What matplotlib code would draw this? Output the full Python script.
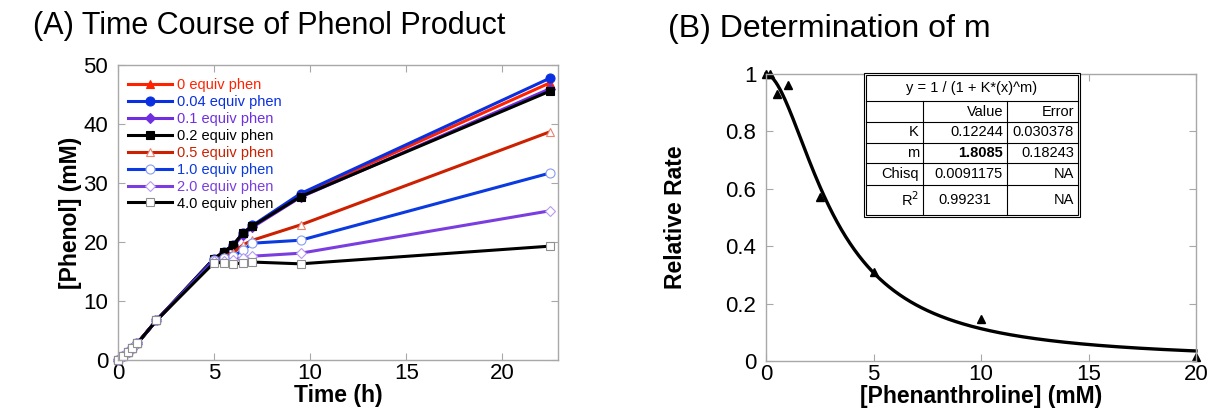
import numpy as np
import matplotlib
matplotlib.use("Agg")
import matplotlib.pyplot as plt
from matplotlib.lines import Line2D
from matplotlib.patches import Rectangle

plt.rcParams['font.family'] = ['Liberation Sans', 'DejaVu Sans']

# ---------------- data: panel A ----------------
time_h = [0, 0.25, 0.5, 0.75, 1, 2, 5, 5.5, 6, 6.5, 7, 9.5, 22.5]
early = [0, 0.7, 1.3, 2.0, 2.8, 6.7]
phen_0_00 = early + [17.2, 18.3, 19.5, 21.5, 22.7, 28.0, 47.0]
phen_0_04 = early + [17.2, 18.3, 19.5, 21.5, 22.8, 28.2, 47.8]
phen_0_10 = early + [17.0, 18.1, 19.3, 21.2, 22.5, 27.6, 46.0]
phen_0_20 = early + [17.2, 18.3, 19.5, 21.5, 22.7, 27.7, 45.6]
phen_0_50 = early + [17.0, 17.5, 18.2, 19.5, 20.3, 22.9, 38.7]
phen_1_00 = early + [17.0, 17.3, 17.6, 18.6, 19.8, 20.3, 31.7]
phen_2_00 = early + [16.7, 16.8, 16.9, 17.3, 17.6, 18.1, 25.3]
phen_4_00 = early + [16.5, 16.5, 16.2, 16.5, 16.6, 16.3, 19.3]
series_labels = ["0 equiv phen", "0.04 equiv phen", "0.1 equiv phen", "0.2 equiv phen",
                 "0.5 equiv phen", "1.0 equiv phen", "2.0 equiv phen", "4.0 equiv phen"]

# ---------------- data: panel B ----------------
phen_mM = [0, 0.2, 0.5, 1, 2.5, 5, 10, 20]
rel_rate = [1.0, 1.0, 0.93, 0.96, 0.57, 0.31, 0.147, 0.014]
fit_K = 0.12244
fit_m = 1.8085
table_rows = [["K", "0.12244", "0.030378"],
              ["m", "1.8085", "0.18243"],
              ["Chisq", "0.0091175", "NA"],
              ["R$^2$", "0.99231", "NA"]]

W, H = 1210, 412
fig = plt.figure(figsize=(W / 100, H / 100), dpi=100)

def fx(px):
    return px / W

def fy(py):
    return 1 - py / H

axA = fig.add_axes([fx(118), fy(360), fx(558) - fx(118), fy(65) - fy(360)])
axB = fig.add_axes([fx(766), fy(361), fx(1196) - fx(766), fy(74) - fy(361)])

styles = [
    (phen_0_00, '#ff2200', '^', '#ff2200', '#ff2200'),
    (phen_0_04, '#0a2fe0', 'o', '#0a2fe0', '#0a2fe0'),
    (phen_0_10, '#6f2fe0', 'D', '#6f2fe0', '#6f2fe0'),
    (phen_0_20, '#000000', 's', '#000000', '#000000'),
    (phen_0_50, '#cc2000', '^', 'white', '#f08070'),
    (phen_1_00, '#0a3ae0', 'o', 'white', '#8a9cf0'),
    (phen_2_00, '#7a3ee0', 'D', 'white', '#b89af0'),
    (phen_4_00, '#000000', 's', 'white', '#909090'),
]
msizes = {'^': 6, 'o': 6.5, 'D': 4.8, 's': 6}
handles = []
for (vals, col, mk, mfc, mec), lab in zip(styles, series_labels):
    ln, = axA.plot(time_h, vals, color=col, lw=2.2, marker=mk, ms=msizes[mk],
                   mfc=mfc, mec=mec, mew=0.8, clip_on=False, label=lab)
    handles.append(ln)

axA.set_xlim(0, 22.9)
axA.set_ylim(0, 50)
axA.set_xticks([0, 5, 10, 15, 20])
axA.set_yticks([0, 10, 20, 30, 40, 50])
axA.set_xlabel("Time (h)", fontsize=16.5, fontweight='bold', labelpad=0)
axA.set_ylabel("[Phenol] (mM)", fontsize=16.5, fontweight='bold', labelpad=1)
leg = axA.legend(handles=handles, loc='upper left', bbox_to_anchor=(0.0, 0.99),
                 frameon=False, fontsize=10.5, handlelength=3.0, handletextpad=0.35,
                 labelspacing=0.2, borderaxespad=0.3)
for txt, (vals, col, mk, mfc, mec) in zip(leg.get_texts(), styles):
    txt.set_color(col)

# panel B
axB.plot(phen_mM, rel_rate, linestyle='none', marker='^', ms=6, color='black', clip_on=False)
x_fit = np.linspace(0, max(phen_mM), 400)
y_fit = 1 / (1 + fit_K * x_fit ** fit_m)
axB.plot(x_fit, y_fit, color='black', lw=2.4, clip_on=False)
axB.set_xlim(0, 20)
axB.set_ylim(0, 1)
axB.set_xticks([0, 5, 10, 15, 20])
axB.set_yticks([0, 0.2, 0.4, 0.6, 0.8, 1.0])
axB.set_yticklabels(["0", "0.2", "0.4", "0.6", "0.8", "1"])
axB.set_xlabel("[Phenanthroline] (mM)", fontsize=16.5, fontweight='bold', labelpad=0)
axB.set_ylabel("Relative Rate", fontsize=16.5, fontweight='bold', labelpad=28)

for ax in (axA, axB):
    for sp in ax.spines.values():
        sp.set_color('#a8a8a8')
        sp.set_linewidth(1.0)
    ax.tick_params(direction='in', length=5, color='#a8a8a8', labelsize=16,
                   top=True, right=True)
    ax.tick_params(axis='x', pad=2)
    ax.tick_params(axis='y', pad=7)

# titles
fig.text(fx(33), fy(34), "(A) Time Course of Phenol Product", fontsize=22, va='baseline', ha='left')
fig.text(fx(668), fy(37), "(B) Determination of m", fontsize=23, va='baseline', ha='left')

# fit table (figure pixel layout)
tx0, tx1 = 864, 1080
ty0, ty1 = 73, 217
col_x = [866, 923, 1007, 1078]
row_y = [75, 101, 122, 143, 163, 185, 215]
lw = 0.8
def hline(x0, x1, y, lwid=lw):
    fig.add_artist(Line2D([fx(x0), fx(x1)], [fy(y), fy(y)], color='black', lw=lwid))
def vline(x, y0, y1, lwid=lw):
    fig.add_artist(Line2D([fx(x), fx(x)], [fy(y0), fy(y1)], color='black', lw=lwid))
fig.add_artist(Rectangle((fx(tx0), fy(ty1)), fx(tx1) - fx(tx0), fy(ty0) - fy(ty1),
                         transform=fig.transFigure, facecolor='white', edgecolor='black', lw=lw))
fig.add_artist(Rectangle((fx(col_x[0]), fy(row_y[-1])), fx(col_x[-1]) - fx(col_x[0]),
                         fy(row_y[0]) - fy(row_y[-1]), transform=fig.transFigure,
                         facecolor='none', edgecolor='black', lw=lw))
for y in row_y[1:-1]:
    hline(col_x[0], col_x[-1], y)
for x in col_x[1:-1]:
    vline(x, row_y[1], row_y[-1])
tfs = 10.5
fig.text(fx((col_x[0] + col_x[-1]) / 2), fy((row_y[0] + row_y[1]) / 2),
         "y = 1 / (1 + K*(x)^m)", fontsize=tfs, ha='center', va='center')
fig.text(fx(col_x[2] - 4), fy((row_y[1] + row_y[2]) / 2), "Value", fontsize=tfs, ha='right', va='center')
fig.text(fx(col_x[3] - 4), fy((row_y[1] + row_y[2]) / 2), "Error", fontsize=tfs, ha='right', va='center')
for i, row in enumerate(table_rows):
    yc = fy((row_y[i + 2] + row_y[i + 3]) / 2)
    fig.text(fx(col_x[1] - 4), yc, row[0], fontsize=tfs, ha='right', va='center')
    if row[0] == "R$^2$":
        fig.text(fx((col_x[1] + col_x[2]) / 2), yc, row[1], fontsize=tfs, ha='center', va='center')
    else:
        fig.text(fx(col_x[2] - 4), yc, row[1], fontsize=tfs, ha='right', va='center',
                 fontweight='bold' if row[0] == 'm' else 'normal')
    fig.text(fx(col_x[3] - 4), yc, row[2], fontsize=tfs, ha='right', va='center')

fig.savefig("out.png", dpi=100)
